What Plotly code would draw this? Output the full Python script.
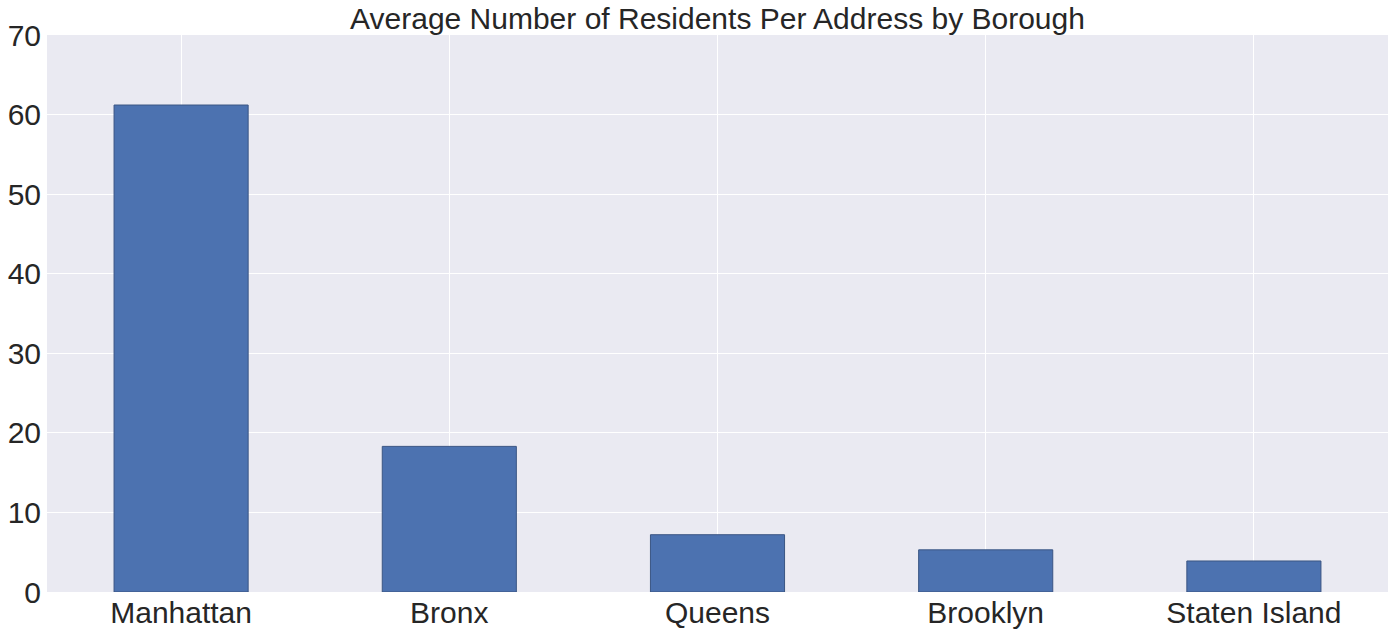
import plotly.graph_objects as go

boroughs = ["Manhattan", "Bronx", "Queens", "Brooklyn", "Staten Island"]
avg_residents = [61.2, 18.3, 7.2, 5.3, 3.9]
y_ticks = [0, 10, 20, 30, 40, 50, 60, 70]

fig = go.Figure(go.Bar(
    x=boroughs, y=avg_residents, width=0.5,
    marker=dict(color="#4C72B0", line=dict(color="#3a5583", width=1)),
))

fig.update_layout(
    width=1393, height=634,
    margin=dict(l=47, r=5, t=35, b=42, autoexpand=False),
    paper_bgcolor="white", plot_bgcolor="#EAEAF2",
    font=dict(family="Liberation Sans, Arial, sans-serif", color="#262626"),
    title=dict(text="Average Number of Residents Per Address by Borough",
               x=0.5, xanchor="center", xref="paper",
               y=1 - 18 / 634, yanchor="middle", font=dict(size=30)),
    showlegend=False,
)
fig.update_xaxes(showgrid=True, gridcolor="white", gridwidth=1,
                 tickfont=dict(size=30), ticks="", range=[-0.5, 4.5],
                 zeroline=False, showline=False, automargin=False)
fig.update_yaxes(range=[0, 70], tickvals=y_ticks, showgrid=True, gridcolor="white",
                 gridwidth=1, tickfont=dict(size=30), ticks="", zeroline=False,
                 showline=False, automargin=False, ticklabelstandoff=5)

fig.write_html("out.html", config={"displayModeBar": False},
               post_script="document.body.style.margin='0';document.body.style.overflow='hidden';")
